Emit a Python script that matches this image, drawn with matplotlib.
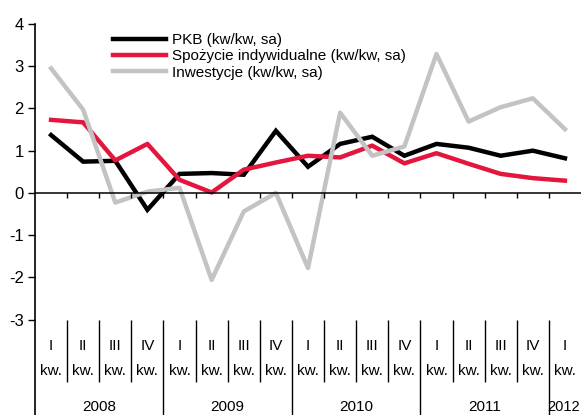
import numpy as np
import matplotlib
matplotlib.use("Agg")
import matplotlib.pyplot as plt

plt.rcParams['font.family'] = ['Liberation Sans', 'DejaVu Sans']

# DATA
years = ["2008", "2009", "2010", "2011", "2012"]
quarters = ["I", "II", "III", "IV"] * 4 + ["I"]
pkb = [1.37, 0.74, 0.76, -0.40, 0.45, 0.47, 0.43, 1.47,
       0.62, 1.16, 1.33, 0.88, 1.16, 1.07, 0.88, 1.00, 0.82]
spozycie = [1.73, 1.67, 0.77, 1.16, 0.31, 0.01, 0.55, 0.72,
            0.88, 0.84, 1.12, 0.70, 0.94, 0.69, 0.45, 0.35, 0.29]
inwestycje = [2.95, 1.97, -0.23, 0.03, 0.12, -2.06, -0.44, 0.00,
              -1.78, 1.90, 0.88, 1.10, 3.29, 1.69, 2.03, 2.24, 1.51]
labels = ["PKB (kw/kw, sa)", "Spożycie indywidualne (kw/kw, sa)", "Inwestycje (kw/kw, sa)"]

W, H = 581, 415
fig = plt.figure(figsize=(W / 100, H / 100), dpi=100)
# axes spans from y=4 (px 24) to bottom of image, x from px 35 to 581
ax = fig.add_axes([35 / W, 0, 546 / W, (H - 24) / H])

x = np.arange(len(pkb))
ax.plot(x, pkb, color="black", lw=3.2, label=labels[0], solid_joinstyle="miter")
ax.plot(x, spozycie, color="#e3173e", lw=3.2, label=labels[1])
ax.plot(x, inwestycje, color="#c3c3c3", lw=3.2, label=labels[2])

ymin_bottom = -5.26
ax.set_xlim(-0.5, len(pkb) - 0.5)
ax.set_ylim(ymin_bottom, 4)

for s in ["top", "right", "bottom"]:
    ax.spines[s].set_visible(False)
ax.spines["left"].set_linewidth(1.2)

ax.set_yticks(np.arange(-3, 5))
ax.set_yticklabels([str(v) for v in range(-3, 5)], fontsize=12)
ax.tick_params(axis="y", direction="out", length=5, width=1, pad=3)
ax.set_xticks([])

# zero line with small ticks between quarters
ax.axhline(0, color="black", lw=1.1)
bounds = np.arange(0.5, len(pkb) - 0.5)
ax.vlines(bounds, -0.12, 0, color="black", lw=1)

# category labels below the plot
for i, q in enumerate(quarters):
    ax.text(i, -3.62, q, ha="center", va="center", fontsize=11)
    ax.text(i, -4.22, "kw.", ha="center", va="center", fontsize=11)
for b in bounds:
    if int(b + 0.5) % 4 == 0:
        ax.vlines(b, ymin_bottom, -3, color="black", lw=1)
    else:
        ax.vlines(b, -4.48, -3, color="black", lw=1)
for k, y in enumerate(years):
    start = 4 * k - 0.5
    end = min(start + 4, len(pkb) - 0.5)
    if end - start < 4:
        ax.text(end - 0.02, -5.06, y, ha="right", va="center", fontsize=10.5)
    else:
        ax.text((start + end) / 2, -5.06, y, ha="center", va="center", fontsize=11)

ax.legend(loc="upper left", bbox_to_anchor=(113 / W, 1 - 33 / H), bbox_transform=fig.transFigure,
          frameon=False, fontsize=11, handlelength=3.5, handletextpad=0.35,
          labelspacing=0.15, borderpad=0, borderaxespad=0)

fig.savefig("out.png", dpi=100)
